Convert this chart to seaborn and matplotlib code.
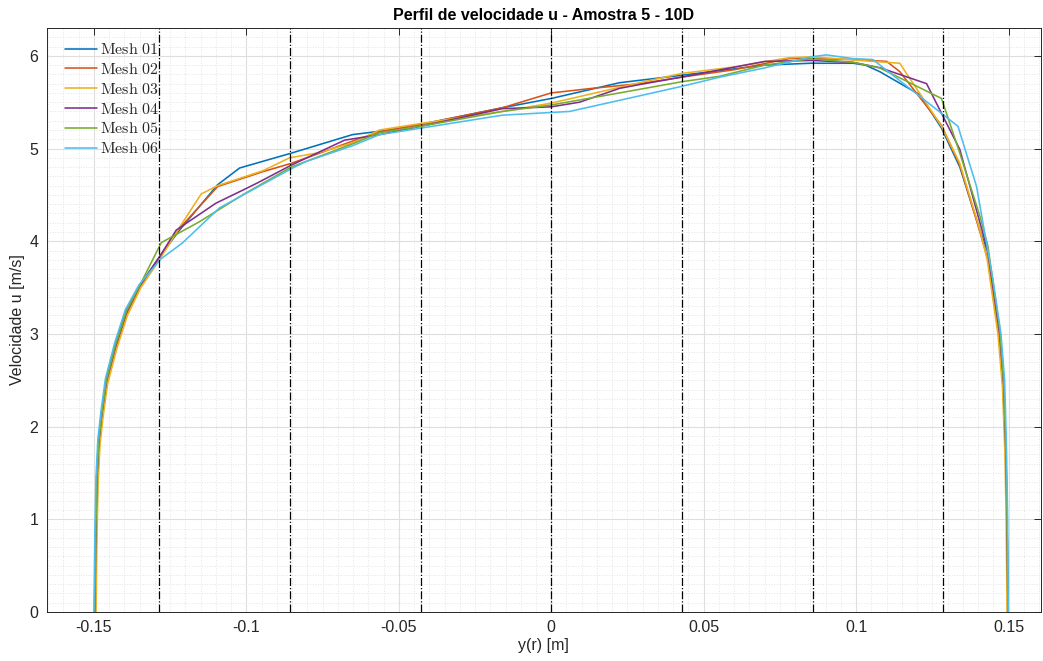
import matplotlib
matplotlib.use("Agg")
import matplotlib.pyplot as plt
import seaborn as sns
import pandas as pd
import numpy as np
from matplotlib.ticker import MultipleLocator, FixedLocator

# ---------------- data ----------------
mesh_names = ["Mesh 01", "Mesh 02", "Mesh 03", "Mesh 04", "Mesh 05", "Mesh 06"]

x_mesh01 = [-0.1498, -0.1495, -0.1491, -0.1485, -0.1475, -0.1460, -0.1430, -0.1395, -0.1350, -0.1285,
            -0.1219, -0.1094, -0.1022, -0.0853, -0.0652, -0.0530, -0.0428, -0.0160, 0.0000, 0.0224,
            0.0427, 0.0700, 0.0850, 0.0990, 0.1030, 0.1077, 0.1209, 0.1280, 0.1340, 0.1406,
            0.1432, 0.1471, 0.1484, 0.1491, 0.1495, 0.1498]
u_mesh01 = [0.00, 0.80, 1.45, 1.85, 2.15, 2.50, 2.88, 3.24, 3.52, 3.83,
            4.12, 4.61, 4.79, 4.95, 5.15, 5.20, 5.26, 5.44, 5.54, 5.71,
            5.79, 5.90, 5.92, 5.92, 5.90, 5.83, 5.58, 5.22, 4.80, 4.12,
            3.88, 3.00, 2.45, 1.75, 1.00, 0.00]

x_mesh02 = [-0.1495, -0.1492, -0.1488, -0.1482, -0.1472, -0.1457, -0.1427, -0.1392, -0.1348, -0.1285,
            -0.1219, -0.1094, -0.0946, -0.0853, -0.0760, -0.0652, -0.0563, -0.0428, -0.0160, 0.0000,
            0.0136, 0.0290, 0.0427, 0.0600, 0.0780, 0.0853, 0.0990, 0.1100, 0.1143, 0.1280,
            0.1340, 0.1406, 0.1432, 0.1469, 0.1482, 0.1490, 0.1494, 0.1497]
u_mesh02 = [0.00, 0.80, 1.42, 1.82, 2.12, 2.48, 2.86, 3.22, 3.51, 3.83,
            4.14, 4.59, 4.75, 4.84, 4.95, 5.08, 5.18, 5.26, 5.44, 5.60,
            5.65, 5.70, 5.77, 5.85, 5.97, 5.97, 5.96, 5.94, 5.83, 5.25,
            4.82, 4.10, 3.80, 2.95, 2.42, 1.72, 1.00, 0.00]

x_mesh03 = [-0.1493, -0.1490, -0.1486, -0.1480, -0.1470, -0.1455, -0.1425, -0.1390, -0.1346, -0.1285,
            -0.1219, -0.1148, -0.1094, -0.0946, -0.0858, -0.0770, -0.0652, -0.0563, -0.0428, -0.0160,
            0.0000, 0.0290, 0.0427, 0.0600, 0.0780, 0.0853, 0.1055, 0.1143, 0.1280, 0.1340,
            0.1406, 0.1430, 0.1465, 0.1480, 0.1488, 0.1492, 0.1495]
u_mesh03 = [0.00, 0.80, 1.40, 1.80, 2.10, 2.46, 2.84, 3.20, 3.50, 3.80,
            4.15, 4.51, 4.60, 4.76, 4.90, 4.95, 5.06, 5.20, 5.27, 5.40,
            5.49, 5.71, 5.81, 5.88, 5.98, 5.99, 5.94, 5.92, 5.24, 4.84,
            4.12, 3.80, 3.00, 2.42, 1.72, 1.00, 0.00]

x_mesh04 = [-0.1497, -0.1494, -0.1490, -0.1484, -0.1474, -0.1459, -0.1429, -0.1394, -0.1350, -0.1285,
            -0.1230, -0.1100, -0.1006, -0.0963, -0.0853, -0.0678, -0.0563, -0.0428, -0.0160, 0.0000,
            0.0093, 0.0225, 0.0290, 0.0427, 0.0700, 0.0853, 0.0990, 0.1080, 0.1231, 0.1280,
            0.1340, 0.1406, 0.1432, 0.1471, 0.1484, 0.1491, 0.1495, 0.1498]
u_mesh04 = [0.00, 0.80, 1.44, 1.84, 2.14, 2.50, 2.87, 3.23, 3.52, 3.83,
            4.12, 4.41, 4.56, 4.63, 4.82, 5.09, 5.15, 5.24, 5.43, 5.45,
            5.50, 5.65, 5.69, 5.77, 5.94, 5.95, 5.93, 5.87, 5.70, 5.38,
            4.99, 4.20, 3.90, 3.02, 2.47, 1.75, 1.00, 0.00]

x_mesh05 = [-0.1497, -0.1494, -0.1490, -0.1484, -0.1474, -0.1459, -0.1429, -0.1394, -0.1350, -0.1279,
            -0.1154, -0.1012, -0.0853, -0.0652, -0.0563, -0.0428, -0.0160, 0.0000, 0.0224, 0.0427,
            0.0553, 0.0700, 0.0853, 0.0990, 0.1077, 0.1280, 0.1340, 0.1406, 0.1432, 0.1471,
            0.1484, 0.1491, 0.1495, 0.1498]
u_mesh05 = [0.00, 0.80, 1.44, 1.84, 2.14, 2.50, 2.88, 3.24, 3.52, 3.985,
            4.21, 4.50, 4.80, 5.05, 5.17, 5.24, 5.40, 5.47, 5.60, 5.72,
            5.78, 5.90, 5.97, 5.93, 5.87, 5.54, 4.95, 4.27, 3.95, 3.05,
            2.48, 1.76, 1.00, 0.00]

x_mesh06 = [-0.1500, -0.1497, -0.1493, -0.1487, -0.1477, -0.1462, -0.1432, -0.1397, -0.1352, -0.1280,
            -0.1210, -0.1088, -0.1010, -0.0848, -0.0804, -0.0652, -0.0563, -0.0428, -0.0160, 0.0060,
            0.0224, 0.0427, 0.0553, 0.0700, 0.0853, 0.0903, 0.0990, 0.1055, 0.1334, 0.1395,
            0.1420, 0.1448, 0.1475, 0.1487, 0.1493, 0.1497, 0.1499]
u_mesh06 = [0.00, 0.80, 1.46, 1.86, 2.16, 2.52, 2.90, 3.26, 3.53, 3.81,
            3.98, 4.36, 4.50, 4.79, 4.86, 5.03, 5.15, 5.22, 5.36, 5.40,
            5.52, 5.67, 5.77, 5.87, 5.99, 6.01, 5.97, 5.96, 5.24, 4.59,
            4.12, 3.60, 3.00, 2.50, 1.78, 1.00, 0.00]

x_series = [x_mesh01, x_mesh02, x_mesh03, x_mesh04, x_mesh05, x_mesh06]
u_series = [u_mesh01, u_mesh02, u_mesh03, u_mesh04, u_mesh05, u_mesh06]

# section lines (R = 0.15 m, spacing R/3.5)
section_x = [-0.12857, -0.08571, -0.04286, 0.0, 0.04286, 0.08571, 0.12857]

x_ticks = [-0.15, -0.1, -0.05, 0, 0.05, 0.1, 0.15]
x_tick_labels = ["-0.15", "-0.1", "-0.05", "0", "0.05", "0.1", "0.15"]
y_ticks = [0, 1, 2, 3, 4, 5, 6]

colors = ["#0072BD", "#D95319", "#EDB120", "#7E2F8E", "#77AC30", "#4DBEEE"]

# ---------------- build table ----------------
rows = []
for name, xs, us in zip(mesh_names, x_series, u_series):
    for i, (xv, uv) in enumerate(zip(xs, us)):
        rows.append({"Mesh": name, "y": xv, "u": uv, "order": i})
df = pd.DataFrame(rows)

sns.set_theme(style="white")
plt.rcParams["font.family"] = ["Liberation Sans", "DejaVu Sans"]
plt.rcParams["mathtext.fontset"] = "cm"

fig = plt.figure(figsize=(10.43, 6.61), dpi=100)
ax = fig.add_axes([0.0447, 0.0741, 0.9533, 0.8835])

ax.set_xlim(-0.1655, 0.1606)
ax.set_ylim(0, 6.3)

# grids
ax.xaxis.set_major_locator(FixedLocator(x_ticks))
ax.yaxis.set_major_locator(FixedLocator(y_ticks))
ax.xaxis.set_minor_locator(MultipleLocator(0.005))
ax.yaxis.set_minor_locator(MultipleLocator(0.1))
ax.grid(True, which="major", color="#dedede", linewidth=0.8, linestyle="-")
ax.grid(True, which="minor", color="#e4e4e4", linewidth=0.7, linestyle=":")
ax.set_axisbelow(True)

sns.lineplot(data=df, x="y", y="u", hue="Mesh", palette=colors, sort=False,
             estimator=None, units="Mesh", linewidth=1.15, ax=ax, legend=True)

for sx in section_x:
    ax.axvline(sx, color="black", linestyle="-.", linewidth=0.9, zorder=3)

ax.set_xticks(x_ticks)
ax.set_xticklabels(x_tick_labels)
ax.tick_params(axis="both", which="major", direction="in", length=5, width=0.7,
               top=True, right=True, labelsize=11.5, colors="#262626", pad=6)
ax.tick_params(axis="both", which="minor", length=0)
for sp in ax.spines.values():
    sp.set_color("#262626")
    sp.set_linewidth(0.7)

ax.set_xlabel("y(r) [m]", fontsize=11.5, color="#262626", labelpad=2)
ax.set_ylabel("Velocidade u [m/s]", fontsize=11.5, color="#262626", labelpad=3)
ax.set_title("Perfil de velocidade u - Amostra 5 - 10D", fontsize=11.5,
             fontweight="bold", color="black", pad=6)

handles, labels = ax.get_legend_handles_labels()
tex_labels = [r"$\mathrm{" + lab.replace(" ", r"\ ") + "}$" for lab in labels]
leg = ax.legend(handles, tex_labels, loc="upper left", frameon=False,
                fontsize=11.5, handlelength=2.0, handletextpad=0.2, labelspacing=0.3,
                borderaxespad=0.6, bbox_to_anchor=(0.002, 1.003))

fig.savefig("out.png", dpi=100)
